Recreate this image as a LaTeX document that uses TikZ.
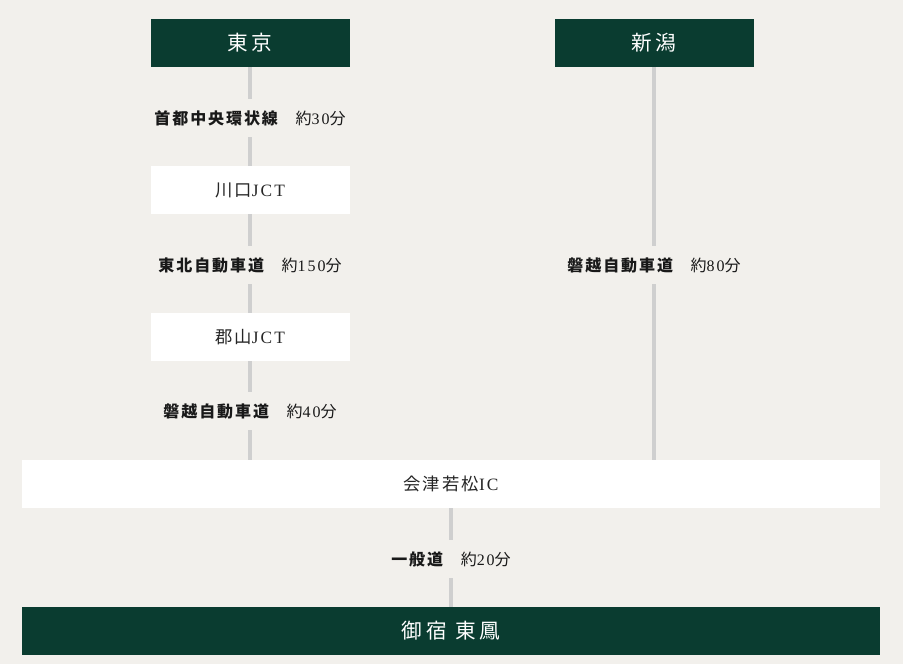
\documentclass[tikz,border=0pt]{standalone}
\usepackage{fontspec}
\setmainfont[LetterSpace=12]{Liberation Serif}
\newfontfamily\jp[LetterSpace=12]{Noto Sans CJK JP}
\newfontfamily\jptitle[LetterSpace=18]{Noto Sans CJK JP}
\definecolor{deepgreen}{HTML}{0A3C30}
\definecolor{paper}{HTML}{F2F0EC}
\definecolor{rail}{HTML}{CFCFCF}
\tikzstyle{city}=[fill=deepgreen, text=white, minimum width=149.25pt, minimum height=36pt, inner sep=0pt, font=\jptitle\fontsize{15.5}{15.5}\selectfont]
\tikzstyle{goal}=[city, minimum width=643.5pt]
\tikzstyle{junction}=[fill=white, text=black!85, minimum width=149.25pt, minimum height=36pt, inner sep=0pt, font=\fontsize{13}{13}\selectfont]
\tikzstyle{ic}=[junction, minimum width=643.5pt]
\tikzstyle{road}=[minimum height=28.5pt, inner sep=0pt, text=black!90, font=\fontsize{12}{12}\selectfont]
\tikzstyle{track}=[rail, line width=3pt]
\newcommand{\rname}[1]{{\jp\bfseries #1}\hspace{1.1em}}
\newcommand{\rtime}[1]{{\jp 約}#1{\jp 分}}

\begin{document}
\begin{tikzpicture}[x=0.75pt,y=-0.75pt]

    % Background
    \fill[paper] (0,0) rectangle (903,664);
    \useasboundingbox (0,0) rectangle (903,664);

    % Stops
    \draw (250,43) node[city] (tokyo) {東京};
    \draw (654,43) node[city] (niigata) {新潟};
    \draw (250,190) node[junction] (kawaguchi) {{\jp 川口}JCT};
    \draw (250,337) node[junction] (koriyama) {{\jp 郡山}JCT};
    \draw (451,484) node[ic] (aizu) {{\jp 会津若松}IC};
    \draw (451,631) node[goal] (ryokan) {御宿 東鳳};

    % Roads
    \draw (250,118) node[road] (shuto) {\rname{首都中央環状線}\rtime{30}};
    \draw (250,265) node[road] (tohoku) {\rname{東北自動車道}\rtime{150}};
    \draw (250,411) node[road] (banetsu) {\rname{磐越自動車道}\rtime{40}};
    \draw (654,265) node[road] (banetsuN) {\rname{磐越自動車道}\rtime{80}};
    \draw (451,559) node[road] (ippan) {\rname{一般道}\rtime{20}};

    % Links
    \draw[track] (tokyo) -- (shuto) (shuto) -- (kawaguchi);
    \draw[track] (kawaguchi) -- (tohoku) (tohoku) -- (koriyama);
    \draw[track] (koriyama) -- (banetsu) (banetsu.south) -- (banetsu.south |- aizu.north);
    \draw[track] (niigata) -- (banetsuN) (banetsuN.south) -- (banetsuN.south |- aizu.north);
    \draw[track] (aizu) -- (ippan) (ippan) -- (ryokan);

\end{tikzpicture}
\end{document}
